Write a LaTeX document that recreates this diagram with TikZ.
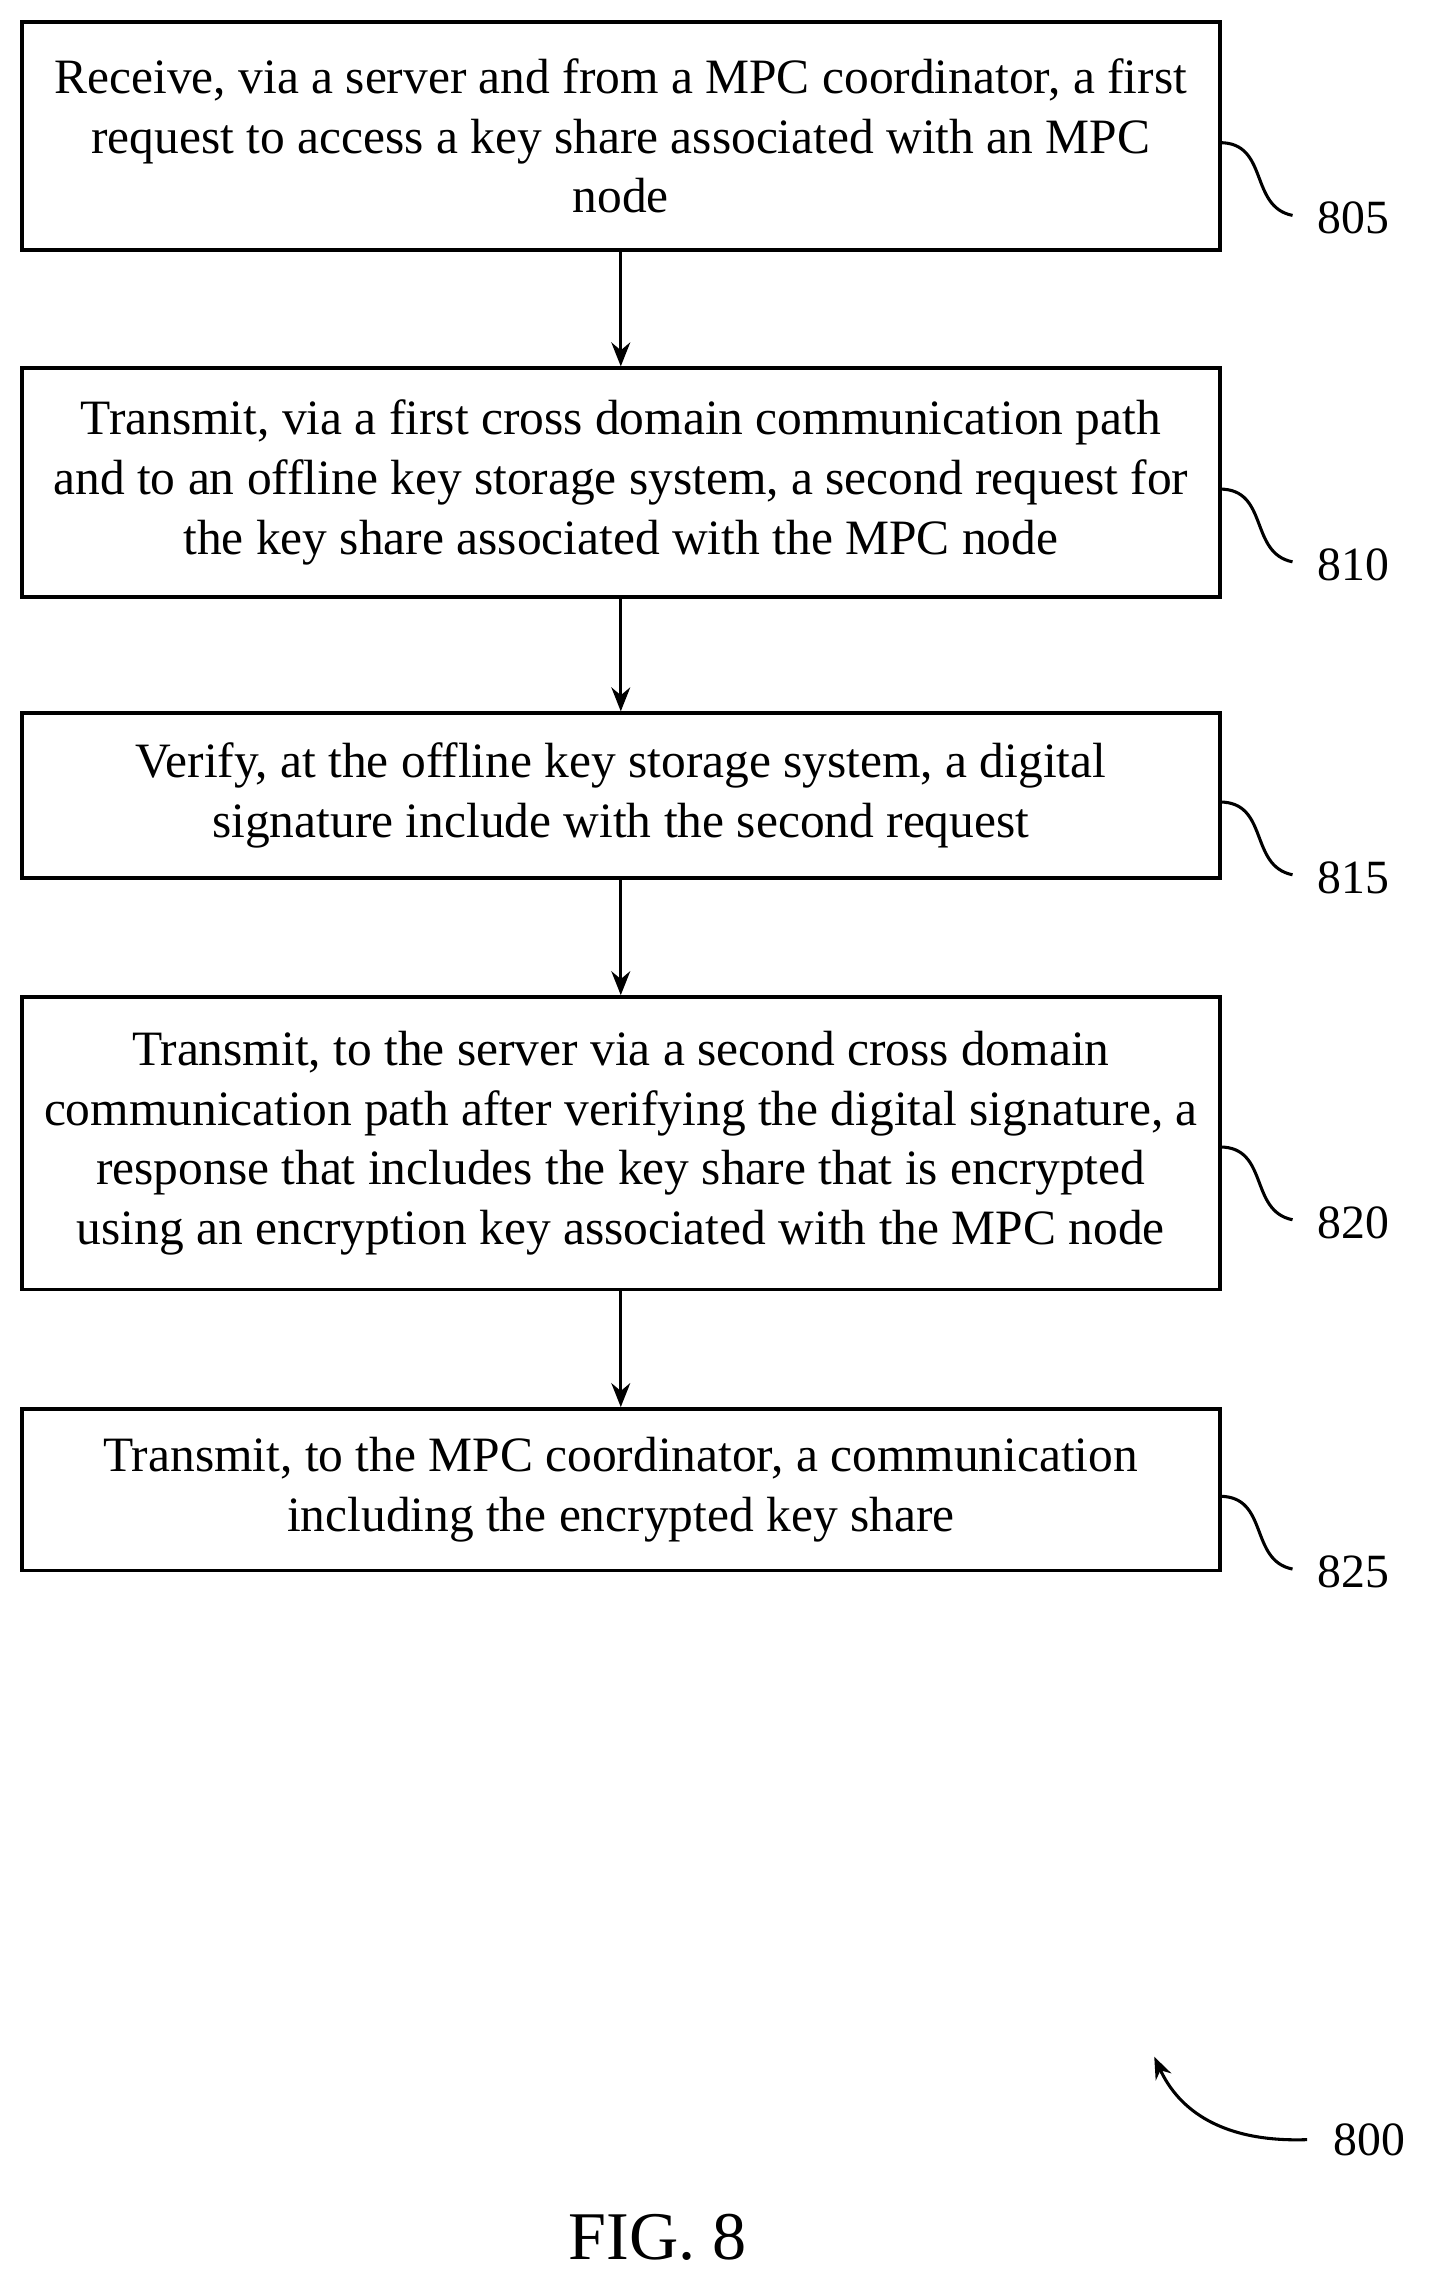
\documentclass[tikz,border=0pt]{standalone}
\usepackage{fontspec}
\setmainfont{Liberation Serif}
\usetikzlibrary{arrows.meta}
\begin{document}
\begin{tikzpicture}[x=0.3mm,y=-0.3mm,
 box/.style={draw,line width=2.2pt,minimum width=823*0.3mm,align=center,font=\fontsize{29}{35}\selectfont,inner sep=0pt},
 arr/.style={line width=2pt,-{Stealth[length=14pt,width=11pt]}},
 lbl/.style={font=\fontsize{28}{30}\selectfont,anchor=west,inner sep=0pt},
 sq/.style={line width=1.8pt}]
\useasboundingbox (0,0) rectangle (993,1574);
\node[box,minimum height=157*0.3mm] (b1) at (426.5,93.5) {Receive, via a server and from a MPC coordinator, a first\\request to access a key share associated with an MPC\\node};
\node[box,minimum height=157*0.3mm] (b2) at (426.5,331.5) {Transmit, via a first cross domain communication path\\and to an offline key storage system, a second request for\\the key share associated with the MPC node};
\node[box,minimum height=113*0.3mm] (b3) at (426.5,546.5) {Verify, at the offline key storage system, a digital\\signature include with the second request};
\node[box,minimum height=201*0.3mm] (b4) at (426.5,785.5) {Transmit, to the server via a second cross domain\\communication path after verifying the digital signature, a\\response that includes the key share that is encrypted\\using an encryption key associated with the MPC node};
\node[box,minimum height=111*0.3mm] (b5) at (426.5,1023.5) {Transmit, to the MPC coordinator, a communication\\including the encrypted key share};
\draw[arr] (b1) -- (b2);
\draw[arr] (b2) -- (b3);
\draw[arr] (b3) -- (b4);
\draw[arr] (b4) -- (b5);
\foreach \n/\y/\t in {1/150/805,2/388/810,3/603/815,4/840/820,5/1080/825}{
 \node[lbl] (l\n) at (905,\y) {\t};
 \coordinate (s\n) at (838,\y-52);
 \coordinate (e\n) at (888,\y-2);
 \draw[sq] (s\n) .. controls (872,\y-52) and (858,\y-8) .. (e\n);
}
\node[lbl] (l0) at (916,1470) {800};
\coordinate (a0) at (793,1413);
\coordinate (e0) at (898,1470);
\draw[sq,-{Stealth[length=13pt,width=10pt]}] (e0) .. controls (840,1472) and (810,1450) .. (a0);
\node[font=\fontsize{40}{42}\selectfont] (fig) at (452,1537) {FIG. 8};
\end{tikzpicture}
\end{document}
